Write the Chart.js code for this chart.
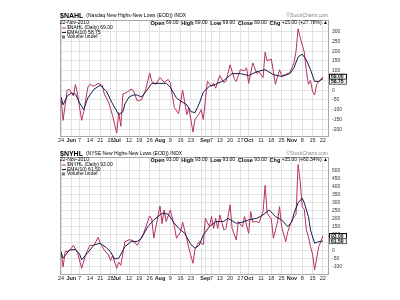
<!DOCTYPE html>
<html>
<head>
<meta charset="utf-8">
<script src="https://cdn.jsdelivr.net/npm/chart.js@4.4.0/dist/chart.umd.min.js"></script>
<style>
  body { margin: 0; background: #fff; }
  #wrap { position: relative; width: 400px; height: 300px; background: #fff; }
  canvas { position: absolute; left: 0; }
</style>
</head>
<body>
<div id="wrap">
  <canvas id="nahlChart" width="400" height="146" style="top:0"></canvas>
  <canvas id="nyhlChart" width="400" height="138" style="top:146px"></canvas>
</div>
<script>
// trading-day index 0 = 24-May-2010, 127 = 22-Nov-2010
const tickDays = [0, 5, 9, 14, 19, 24, 27, 33, 38, 43, 48, 53, 58, 63, 68, 70, 73, 77, 82, 87, 91, 97, 102, 107, 112, 117, 122, 127];
const tickLabels = ['24', 'Jun', '7', '14', '21', '28', 'Jul', '12', '19', '26', 'Aug', '9', '16', '23', '', 'Sep', '7', '13', '20', '27', 'Oct', '11', '18', '25', 'Nov', '8', '15', '22'];
const monthLabels = ['Jun', 'Jul', 'Aug', 'Sep', 'Oct', 'Nov'];

// $NAHL daily (key turning points)
const nahlDays = [0, 1, 3, 4, 6, 7, 8, 10, 11, 13, 14, 16, 18, 20, 21, 23, 25, 27, 28, 29, 30, 32, 34, 35, 37, 39, 41, 43, 44, 46, 48, 50, 52, 53, 55, 57, 59, 61, 62, 64, 65, 67, 68, 69, 71, 73, 74, 75, 77, 79, 80, 82, 84, 85, 87, 89, 90, 91, 93, 95, 96, 98, 99, 100, 102, 104, 106, 107, 109, 111, 112, 113, 114, 115, 116, 118, 119, 120, 121, 122, 123, 124, 125, 126, 127];
const nahlValues = [-35, -155, 0, 5, -30, 30, -20, -155, -110, 15, 30, 20, 35, 25, -20, -60, -130, -220, -115, -185, -20, -10, 5, 0, -55, -50, 0, 88, 45, 30, 65, 40, 55, 35, -90, -120, 0, -125, -90, -215, -150, -120, -100, -150, 45, 20, 35, 10, 75, 40, 45, 130, 60, 45, 105, 100, 115, 35, 140, 85, 95, 65, 195, 150, 160, 30, 105, 75, 80, 90, 115, 140, 200, 315, 270, 195, 100, 30, 50, -5, -25, 30, 45, 54, 69];
const nahlEmaDays = [0, 1, 3, 5, 7, 9, 11, 13, 16, 19, 22, 25, 28, 30, 31, 33, 35, 37, 39, 41, 44, 47, 51, 53, 56, 58, 61, 63, 65, 67, 69, 72, 75, 79, 83, 87, 91, 95, 99, 103, 107, 111, 113, 115, 117, 119, 121, 123, 125, 127];
const nahlEma = [-35, -75, -30, -15, -20, -65, -100, -40, 5, 25, -5, -70, -125, -110, -70, -35, -25, -25, -35, -10, 35, 35, 35, 15, -40, -55, -75, -110, -115, -70, -10, 20, 30, 50, 85, 85, 75, 95, 105, 80, 70, 85, 115, 170, 185, 155, 105, 45, 45, 58.75];

// $NYHL daily (key turning points)
const nyhlDays = [0, 1, 2, 4, 6, 8, 10, 12, 14, 16, 18, 19, 21, 23, 24, 25, 27, 28, 29, 31, 33, 35, 37, 40, 43, 44, 45, 46, 48, 49, 50, 51, 53, 55, 56, 58, 59, 61, 62, 64, 65, 67, 69, 70, 72, 73, 74, 75, 76, 77, 79, 80, 82, 83, 85, 86, 88, 89, 91, 92, 93, 95, 96, 98, 99, 100, 102, 103, 105, 106, 107, 109, 110, 112, 114, 115, 116, 117, 118, 119, 120, 121, 122, 123, 125, 126, 127];
const nyhlValues = [-5, -100, -5, 0, 35, -10, -108, -20, 35, 35, 85, 50, 5, -25, -60, -30, -108, -70, -90, 58, 70, 65, 35, 110, 219, 200, 80, 150, 281, 170, 256, 183, 256, 152, 79, 121, 180, 75, 17, -77, 10, 58, 40, 204, 152, 215, 140, 204, 140, 225, 131, 140, 288, 140, 69, 183, 150, 215, 110, 246, 180, 185, 175, 246, 410, 235, 200, 79, 180, 277, 152, 58, 120, 194, 230, 540, 433, 277, 260, 131, 90, 27, -20, -119, 27, 58, 93];
const nyhlEmaDays = [0, 1, 4, 7, 9, 10, 13, 16, 19, 22, 24, 26, 28, 31, 34, 37, 39, 42, 45, 49, 52, 55, 57, 60, 63, 65, 67, 69, 72, 75, 79, 81, 85, 88, 91, 95, 98, 101, 104, 107, 110, 112, 113, 115, 117, 118, 120, 121, 123, 125, 127];
const nyhlEma = [-5, -45, 5, 10, -20, -55, -10, 37, 48, 20, -5, -50, -45, 27, 58, 60, 79, 150, 194, 235, 230, 173, 142, 110, 40, 17, 35, 100, 152, 183, 185, 204, 173, 180, 194, 204, 225, 256, 215, 194, 152, 183, 235, 300, 330, 300, 215, 131, 48, 58, 61.5];

const redLine = '#b8325f';
const navyLine = '#1c1c4c';
const fontFam = '"Liberation Sans", Arial, sans-serif';

function pts(days, vals) {
  return days.map((d, i) => ({ x: d, y: vals[i] }));
}

const headerPlugin = {
  id: 'header',
  afterDraw(chart, args, o) {
    const ctx = chart.ctx;
    const a = chart.chartArea;
    ctx.save();
    ctx.strokeStyle = '#a8a8a8';
    ctx.lineWidth = 1;
    ctx.strokeRect(a.left + 0.5, a.top + 0.5, a.right - a.left, a.bottom - a.top);

    ctx.textBaseline = 'middle';
    ctx.textAlign = 'left';
    ctx.fillStyle = '#000';
    ctx.font = 'bold 7px ' + fontFam;
    ctx.fillText(o.symbol, a.left, o.titleY);
    const w = ctx.measureText(o.symbol).width;
    ctx.font = '5px ' + fontFam;
    ctx.fillText(o.name, a.left + w + 3, o.titleY);

    ctx.fillStyle = '#888';
    ctx.textAlign = 'right';
    ctx.fillText('\u00A9StockCharts.com', a.right, o.titleY);

    ctx.fillStyle = '#000';
    ctx.textAlign = 'left';
    ctx.fillText(o.date, a.left, a.top + 3);

    // open/high/low/close line
    const segs = o.quote;
    let total = 0;
    segs.forEach(s => {
      ctx.font = (s.b ? 'bold 5.5px ' : '5px ') + fontFam;
      total += ctx.measureText(s.t).width;
    });
    let x = a.right - total;
    segs.forEach(s => {
      ctx.font = (s.b ? 'bold 5.5px ' : '5px ') + fontFam;
      ctx.fillText(s.t, x, a.top + 3);
      x += ctx.measureText(s.t).width;
    });

    // legend
    const leg = [
      { c: redLine, t: o.legend[0] },
      { c: navyLine, t: o.legend[1] },
      { c: '#777', t: o.legend[2], box: true }
    ];
    ctx.font = '5px ' + fontFam;
    leg.forEach((l, i) => {
      const y = a.top + 8 + i * 4.5;
      if (l.box) {
        ctx.fillStyle = l.c;
        ctx.fillRect(a.left + 2, y - 1.5, 3, 3);
      } else {
        ctx.strokeStyle = l.c;
        ctx.beginPath();
        ctx.moveTo(a.left + 2, y);
        ctx.lineTo(a.left + 6, y);
        ctx.stroke();
      }
      ctx.fillStyle = '#000';
      ctx.fillText(l.t, a.left + 7, y);
    });

    // value flags on the price axis
    const ys = chart.scales.y;
    const y1 = ys.getPixelForValue(o.flags[0]);
    let y2 = ys.getPixelForValue(o.flags[1]);
    if (y2 - y1 < 5) y2 = y1 + 5;
    [[y1, o.flags[0], '#fff', '#000'], [y2, o.flags[1], '#eee', '#666']].forEach(f => {
      ctx.fillStyle = f[2];
      ctx.fillRect(a.right + 1, f[0] - 2.5, 18, 5);
      ctx.strokeStyle = f[3];
      ctx.strokeRect(a.right + 1.5, f[0] - 2.5, 17, 5);
      ctx.fillStyle = '#000';
      ctx.font = 'bold 5px ' + fontFam;
      ctx.textAlign = 'left';
      ctx.fillText(f[1].toFixed(2), a.right + 3, f[0] + 0.3);
    });
    ctx.restore();
  }
};

function makeChart(id, dailyDays, daily, emaDays, ema, yMin, yMax, yLo, yHi, padTop, hdr) {
  const ctx = document.getElementById(id).getContext('2d');
  return new Chart(ctx, {
    type: 'line',
    data: {
      datasets: [{
        data: pts(emaDays, ema),
        borderColor: navyLine,
        borderWidth: 1,
        pointRadius: 0,
        tension: 0
      }, {
        data: pts(dailyDays, daily),
        borderColor: redLine,
        borderWidth: 1,
        pointRadius: 0,
        tension: 0
      }]
    },
    options: {
      responsive: false,
      animation: false,
      devicePixelRatio: 1,
      layout: { padding: { left: 60, top: padTop, right: 0, bottom: 0 } },
      plugins: {
        legend: { display: false },
        tooltip: { enabled: false },
        header: hdr
      },
      scales: {
        x: {
          type: 'linear',
          min: -0.5,
          max: 129.5,
          afterBuildTicks: s => { s.ticks = tickDays.map(v => ({ value: v })); },
          afterFit: s => { s.height = 10; },
          grid: { color: '#e2e2e2', drawTicks: false },
          border: { display: false },
          ticks: {
            autoSkip: false,
            maxRotation: 0,
            padding: 1,
            color: '#222',
            font: c => ({
              size: 5.5,
              family: fontFam,
              weight: c.tick && monthLabels.includes(tickLabels[tickDays.indexOf(c.tick.value)]) ? 'bold' : 'normal'
            }),
            callback: v => tickLabels[tickDays.indexOf(v)]
          }
        },
        y: {
          position: 'right',
          min: yMin,
          max: yMax,
          afterBuildTicks: s => {
            const t = [];
            for (let v = yLo; v <= yHi; v += 50) t.push({ value: v });
            s.ticks = t;
          },
          afterFit: s => { s.width = 72; },
          grid: { color: '#e2e2e2', drawTicks: false },
          border: { display: false },
          ticks: {
            padding: 4,
            color: '#333',
            font: { size: 5, family: fontFam }
          }
        }
      }
    },
    plugins: [headerPlugin]
  });
}

makeChart('nahlChart', nahlDays, nahlValues, nahlEmaDays, nahlEma, -235, 360, -200, 300, 20, {
  symbol: '$NAHL',
  name: '(Nasdaq New Highs-New Lows (EOD)) INDX',
  titleY: 16,
  date: '22-Nov-2010',
  quote: [
    { t: 'Open', b: true }, { t: ' 69.00  ' }, { t: 'High', b: true }, { t: ' 69.00  ' },
    { t: 'Low', b: true }, { t: ' 69.00  ' }, { t: 'Close', b: true }, { t: ' 69.00  ' },
    { t: 'Chg', b: true }, { t: ' +15.00 (+27.78%) \u25B2' }
  ],
  legend: ['$NAHL (Daily) 69.00', 'EMA(10) 58.75', 'Volume undef'],
  flags: [69, 58.75]
});

makeChart('nyhlChart', nyhlDays, nyhlValues, nyhlEmaDays, nyhlEma, -144, 587, -100, 500, 11, {
  symbol: '$NYHL',
  name: '(NYSE New Highs-New Lows (EOD)) INDX',
  titleY: 8,
  date: '22-Nov-2010',
  quote: [
    { t: 'Open', b: true }, { t: ' 93.00  ' }, { t: 'High', b: true }, { t: ' 93.00  ' },
    { t: 'Low', b: true }, { t: ' 93.00  ' }, { t: 'Close', b: true }, { t: ' 93.00  ' },
    { t: 'Chg', b: true }, { t: ' +35.00 (+60.34%) \u25B2' }
  ],
  legend: ['$NYHL (Daily) 93.00', 'EMA(10) 61.50', 'Volume undef'],
  flags: [93, 61.5]
});
</script>
</body>
</html>
